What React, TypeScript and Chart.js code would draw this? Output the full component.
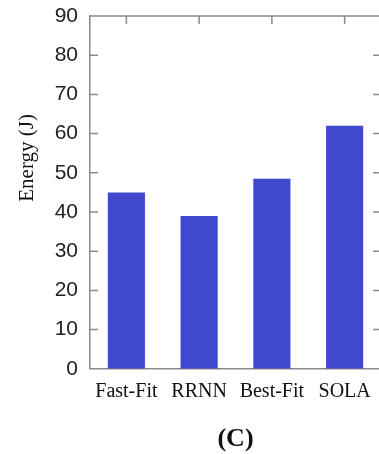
import React, { useEffect, useRef } from 'react';
import { Chart, registerables } from 'chart.js';

Chart.register(...registerables);

const categories = ['Fast-Fit', 'RRNN', 'Best-Fit', 'SOLA'];
const energy = [45, 39, 48.5, 62];
const yMin = 0;
const yMax = 90;
const yStep = 10;
const yTitle = 'Energy (J)';
const caption = '(C)';

const AXIS_COLOR = '#8a8a8a';
const BAR_COLOR = '#4048cc';
const SERIF = '"Liberation Serif", "Times New Roman", serif';

const frameTicks = {
  id: 'frameTicks',
  afterDatasetsDraw(chart: any) {
    const { ctx, chartArea, scales } = chart;
    const { left, right, top, bottom } = chartArea;
    const y = scales.y;
    const x = scales.x;
    const len = 8;
    ctx.save();
    ctx.strokeStyle = AXIS_COLOR;
    ctx.lineWidth = 1.5;
    ctx.beginPath();
    ctx.moveTo(left, top);
    ctx.lineTo(right, top);
    ctx.moveTo(right, top);
    ctx.lineTo(right, bottom);
    y.ticks.forEach((t: any) => {
      const py = y.getPixelForValue(t.value);
      if (t.value === yMin || t.value === yMax) return;
      ctx.moveTo(left, py);
      ctx.lineTo(left + len, py);
      ctx.moveTo(right, py);
      ctx.lineTo(right - len, py);
    });
    categories.forEach((_, i) => {
      const px = x.getPixelForValue(i);
      ctx.moveTo(px, top);
      ctx.lineTo(px, top + len);
    });
    ctx.stroke();
    // y-axis title, placed like the reference (above the axis centre)
    ctx.fillStyle = '#111';
    ctx.font = `21px ${SERIF}`;
    ctx.textAlign = 'center';
    ctx.textBaseline = 'alphabetic';
    ctx.translate(33, y.getPixelForValue(53.8));
    ctx.rotate(-Math.PI / 2);
    ctx.fillText(yTitle, 0, 0);
    ctx.restore();
  },
};

export default function App() {
  const ref = useRef<HTMLCanvasElement>(null);
  useEffect(() => {
    if (!ref.current) return;
    const chart = new Chart(ref.current, {
      type: 'bar',
      data: {
        labels: categories,
        datasets: [
          {
            label: 'Energy',
            data: energy,
            backgroundColor: BAR_COLOR,
            borderWidth: 0,
            categoryPercentage: 1,
            barPercentage: 0.51,
          },
        ],
      },
      options: {
        animation: false,
        responsive: false,
        maintainAspectRatio: false,
        layout: { padding: { top: 16, right: 11, left: 0, bottom: 0 } },
        plugins: {
          legend: { display: false },
          tooltip: { enabled: false },
          title: {
            display: true,
            text: caption,
            position: 'bottom',
            fullSize: false,
            color: '#111',
            font: { family: SERIF, size: 26, weight: 'bold', lineHeight: 1.1 },
            padding: { top: 10.6, bottom: 0 },
          },
        },
        scales: {
          x: {
            grid: { display: false, drawTicks: false },
            border: { display: true, color: AXIS_COLOR, width: 1.5 },
            ticks: {
              color: '#111',
              padding: 11,
              font: { family: SERIF, size: 20 },
              maxRotation: 0,
              autoSkip: false,
            },
          },
          y: {
            min: yMin,
            max: yMax,
            afterFit: (scale: any) => {
              scale.width = 90;
              scale.paddingTop = 0;
              scale.paddingBottom = 0;
            },
            grid: { display: false, drawTicks: false },
            border: { display: true, color: AXIS_COLOR, width: 1.5 },
            ticks: {
              stepSize: yStep,
              color: '#222',
              padding: 12,
              font: { family: '"Liberation Sans", Arial, sans-serif', size: 21 },
            },
          },
        },
      },
      plugins: [frameTicks],
    });
    return () => chart.destroy();
  }, []);
  return (
    <div style={{ position: 'fixed', left: 0, top: 0, width: 379, height: 454, overflow: 'hidden', background: '#fff' }}>
      <canvas ref={ref} width={392} height={454} style={{ display: 'block', width: 392, height: 454 }} />
    </div>
  );
}
